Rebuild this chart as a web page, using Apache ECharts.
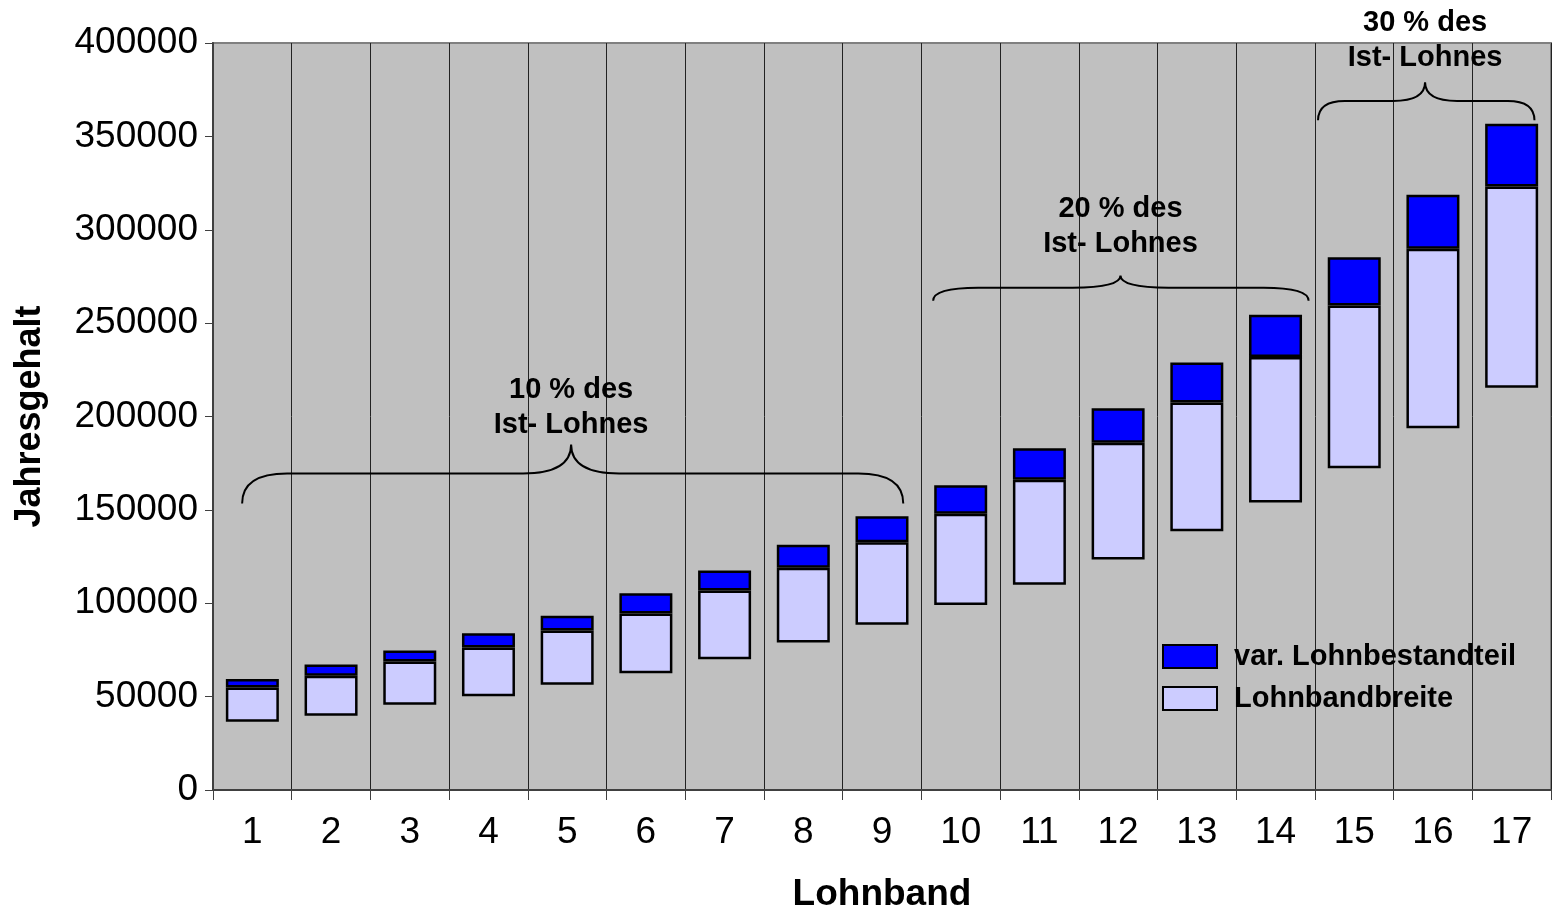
<!DOCTYPE html>
<html>
<head>
<meta charset="utf-8">
<script src="https://cdn.jsdelivr.net/npm/echarts@6/dist/echarts.min.js"></script>
<style>
html,body{margin:0;padding:0;background:#fff;}
#chart{width:1553px;height:909px;}
</style>
</head>
<body>
<div id="chart"></div>
<script>
// ---- data ----
const categories = ['1','2','3','4','5','6','7','8','9','10','11','12','13','14','15','16','17'];
const bandMin = [36500, 39700, 45600, 50200, 56300, 62500, 70000, 79000, 88500, 99000, 109900, 123400, 138600, 154000, 172300, 193700, 215400];
const bandMax = [54900, 61200, 68800, 76300, 85400, 94500, 106800, 119000, 132700, 147900, 166100, 185900, 207500, 231800, 259400, 289800, 323200];
const varPart = [4600, 6000, 5900, 7700, 7900, 10900, 10700, 12300, 13900, 15300, 16900, 18500, 21400, 22700, 25900, 28900, 33500];
const yTicks = [0, 50000, 100000, 150000, 200000, 250000, 300000, 350000, 400000];
const braceLabels = ['10 % des\nIst- Lohnes', '20 % des\nIst- Lohnes', '30 % des\nIst- Lohnes'];

// annotation placement (category index units / axis values)
const braceFrom = [-0.13, 8.65, 13.54];
const braceTo = [8.27, 13.42, 16.29];
const bracePeak = [4.05, 11.03, 14.9];
const braceLevel = [169500, 269000, 369000];
const braceTip = [185000, 275500, 379000];
const braceFoot = [153400, 262000, 358600];
const labelLevel = [204600, 301900, 401100];

const bandSize = bandMax.map((v, i) => v - bandMin[i]);

const FONT = '"Liberation Sans", Arial, sans-serif';
const chart = echarts.init(document.getElementById('chart'), null, {renderer: 'canvas'});

function renderBrace(params, api) {
  const i = params.dataIndex;
  const w = api.size([1, 0])[0];
  const origin = api.coord([0, braceLevel[i]]);
  const xA = origin[0] + braceFrom[i] * w;
  const xB = origin[0] + braceTo[i] * w;
  const xP = origin[0] + bracePeak[i] * w;
  const yL = origin[1];
  const yT = api.coord([0, braceTip[i]])[1];
  const yF = api.coord([0, braceFoot[i]])[1];
  const yText = api.coord([0, labelLevel[i]])[1];
  const rEnd = Math.min(45, (xP - xA) * 0.25);
  const rMid = Math.min(48, (xP - xA) * 0.3);
  const path = 'M' + xA + ' ' + yF +
    ' Q' + xA + ' ' + yL + ' ' + (xA + rEnd) + ' ' + yL +
    ' L' + (xP - rMid) + ' ' + yL +
    ' Q' + xP + ' ' + yL + ' ' + xP + ' ' + yT +
    ' Q' + xP + ' ' + yL + ' ' + (xP + rMid) + ' ' + yL +
    ' L' + (xB - rEnd) + ' ' + yL +
    ' Q' + xB + ' ' + yL + ' ' + xB + ' ' + yF;
  return {
    type: 'group',
    children: [
      {type: 'path', shape: {pathData: path}, style: {fill: null, stroke: '#000', lineWidth: 2}},
      {type: 'text', style: {text: braceLabels[i], x: xP, y: yText, align: 'center', verticalAlign: 'middle',
        font: 'bold 29px ' + FONT, fill: '#000', lineHeight: 35}}
    ]
  };
}

const option = {
  animation: false,
  backgroundColor: '#fff',
  grid: {left: 213, right: 2, top: 43, bottom: 119, show: true, backgroundColor: '#C0C0C0',
    borderColor: '#808080', borderWidth: 2, outerBoundsMode: 'none', containLabel: false},
  legend: {
    orient: 'vertical', left: 1157, top: 637, itemWidth: 54, itemHeight: 23, itemGap: 13,
    icon: 'rect',
    data: ['var. Lohnbestandteil', 'Lohnbandbreite'],
    textStyle: {fontSize: 29, fontWeight: 'bold', color: '#000', fontFamily: FONT, padding: [0, 0, 0, 12]},
    selectedMode: false
  },
  xAxis: {
    type: 'category', data: categories, boundaryGap: true,
    name: 'Lohnband', nameLocation: 'middle', nameGap: 86,
    nameTextStyle: {fontSize: 37, fontWeight: 'bold', color: '#000', fontFamily: FONT},
    axisLine: {lineStyle: {color: '#404040', width: 2}},
    axisTick: {show: true, length: 10, lineStyle: {color: '#404040'}},
    axisLabel: {fontSize: 37, color: '#000', fontFamily: FONT, margin: 24},
    splitLine: {show: true, lineStyle: {color: '#222', width: 1}}
  },
  yAxis: {
    type: 'value', min: 0, max: 400000, interval: 50000,
    name: 'Jahresgehalt', nameLocation: 'middle', nameGap: 165, nameRotate: 90,
    nameTextStyle: {fontSize: 36, fontWeight: 'bold', color: '#000', fontFamily: FONT},
    axisLine: {show: true, lineStyle: {color: '#404040', width: 2}},
    axisTick: {show: true, length: 8, lineStyle: {color: '#404040'}},
    axisLabel: {fontSize: 37, color: '#000', fontFamily: FONT, margin: 15,
      formatter: v => (yTicks.indexOf(v) >= 0 ? String(v) : '')},
    splitLine: {show: false}
  },
  series: [
    {name: 'base', type: 'bar', stack: 'a', data: bandMin, barWidth: 53,
      itemStyle: {color: 'transparent'}, silent: true, legendHoverLink: false},
    {name: 'Lohnbandbreite', type: 'bar', stack: 'a', data: bandSize, barWidth: 53,
      itemStyle: {color: '#CCCCFF', borderColor: '#000', borderWidth: 2.5}},
    {name: 'var. Lohnbestandteil', type: 'bar', stack: 'a', data: varPart, barWidth: 53,
      itemStyle: {color: '#0000FF', borderColor: '#000', borderWidth: 2.5}},
    {name: 'braces', type: 'custom', renderItem: renderBrace, clip: false, silent: true,
      data: bracePeak.map((p, i) => [0, braceLevel[i]]), z: 10}
  ]
};
chart.setOption(option);
</script>
</body>
</html>
